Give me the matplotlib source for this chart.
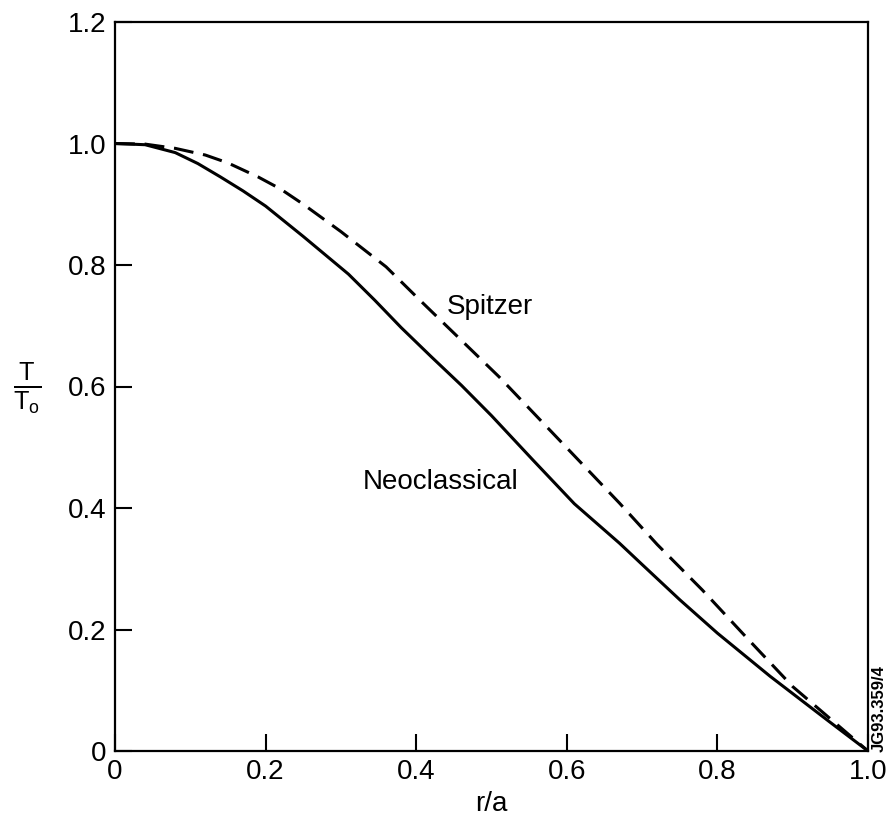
import matplotlib
matplotlib.use("Agg")
import matplotlib.pyplot as plt

plt.rcParams['font.family'] = ['Liberation Sans', 'DejaVu Sans']
plt.rcParams['mathtext.fontset'] = 'custom'
plt.rcParams['mathtext.rm'] = 'Liberation Sans'
plt.rcParams['mathtext.it'] = 'Liberation Sans'

# Neoclassical (solid)
neo_x = [0.0, 0.04, 0.08, 0.11, 0.14, 0.17, 0.20, 0.25, 0.31, 0.345, 0.38,
         0.42, 0.46, 0.50, 0.555, 0.61, 0.67, 0.70, 0.75, 0.80, 0.87, 0.95, 1.0]
neo_y = [1.0, 0.998, 0.985, 0.967, 0.945, 0.922, 0.897, 0.847, 0.785, 0.742,
         0.697, 0.649, 0.602, 0.552, 0.479, 0.407, 0.342, 0.307, 0.249, 0.194,
         0.123, 0.047, 0.0]

# Spitzer (dashed)
spi_x = [0.0, 0.04, 0.08, 0.12, 0.15, 0.19, 0.22, 0.25, 0.30, 0.36, 0.405,
         0.45, 0.51, 0.59, 0.67, 0.72, 0.78, 0.84, 0.90, 0.95, 1.0]
spi_y = [1.0, 0.999, 0.992, 0.981, 0.968, 0.945, 0.925, 0.900, 0.855, 0.797,
         0.742, 0.688, 0.616, 0.512, 0.408, 0.340, 0.265, 0.185, 0.106, 0.053,
         0.0]

xticks = [0, 0.2, 0.4, 0.6, 0.8, 1.0]
xtick_labels = ["0", "0.2", "0.4", "0.6", "0.8", "1.0"]
yticks = [0, 0.2, 0.4, 0.6, 0.8, 1.0, 1.2]
ytick_labels = ["0", "0.2", "0.4", "0.6", "0.8", "1.0", "1.2"]

fig = plt.figure(figsize=(8.88, 8.24), dpi=100)
ax = fig.add_axes([115/888, 1-751/824, (868-115)/888, (751-22)/824])

ax.plot(neo_x, neo_y, color='black', lw=2.2, solid_joinstyle='round')
ax.plot(spi_x, spi_y, color='black', lw=2.2, dashes=(6.5, 3.2))

ax.set_xlim(0, 1.0)
ax.set_ylim(0, 1.2)
ax.set_xticks(xticks)
ax.set_xticklabels(xtick_labels)
ax.set_yticks(yticks)
ax.set_yticklabels(ytick_labels)
ax.tick_params(direction='in', length=12, width=1.5, labelsize=20, pad=6)
for s in ax.spines.values():
    s.set_linewidth(1.6)

ax.set_xlabel("r/a", fontsize=20, labelpad=4)

ax.text(0.441, 0.731, "Spitzer", fontsize=20, ha='left', va='center')
ax.text(0.329, 0.443, "Neoclassical", fontsize=20, ha='left', va='center')

fig.text(27/888, 1-388/824, r'$\frac{\mathrm{T}}{\mathrm{T_o}}$', fontsize=26,
         ha='center', va='center')

fig.text(879/888, 1-709/824, "JG93.359/4", fontsize=12, rotation=90,
         ha='center', va='center', fontweight='bold')

fig.savefig("out.png", dpi=100)
